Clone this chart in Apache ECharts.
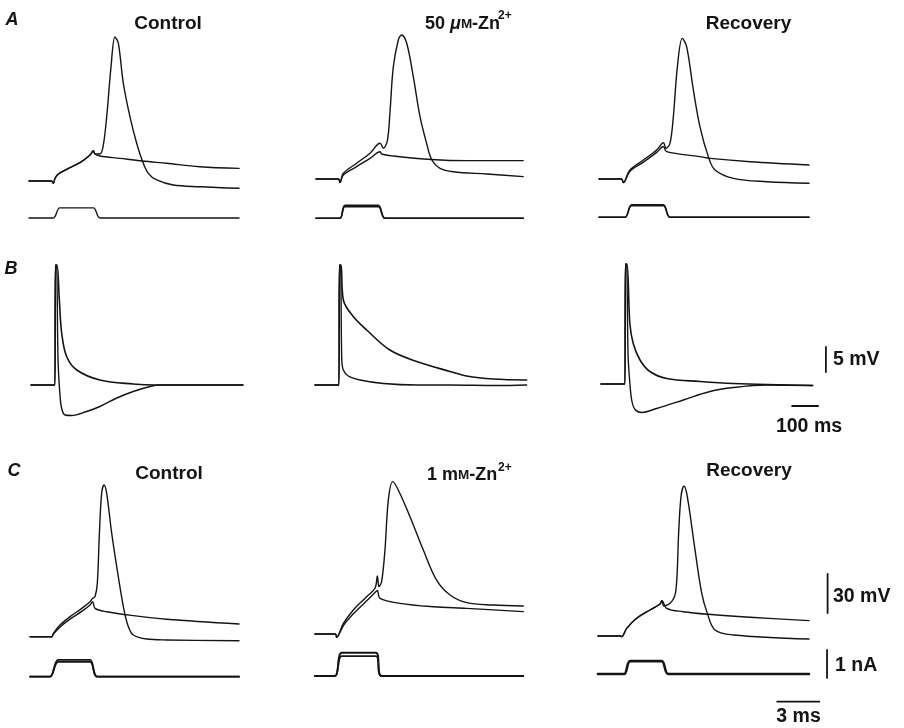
<!DOCTYPE html>
<html><head><meta charset="utf-8">
<script src="https://cdn.jsdelivr.net/npm/echarts@6.0.0/dist/echarts.min.js"></script>
<style>html,body{margin:0;padding:0;background:#fff}#c{width:904px;height:728px}</style>
</head><body><div id="c"></div><script>
// ---------- DATA (time in ms, membrane potential in mV relative to rest, current in nA) ----------
// Row A: 50 uM Zn2+
const a1Spike = [[0,0],[1.6,0],[1.74,-1.8],[1.86,2.1],[2.1,5.4],[2.69,9],[3.64,14.1],[4.36,20],[4.6,23.3],[4.71,20.8],[5.07,20.8],[5.29,26.4],[5.55,49.5],[5.86,88],[6.14,110.8],[6.38,106],[6.74,75],[7.21,49.5],[7.69,29],[8.1,15.4],[8.52,5.9],[9.12,0.8],[10.3,-3.1],[12.2,-4.4],[15,-5.6]];
const a1Sub   = [[0,0],[1.6,0],[1.74,-1.8],[1.86,2.1],[2.1,5.4],[2.69,9],[3.64,14.1],[4.36,20],[4.6,23.3],[4.71,20.8],[5.07,19.2],[6.5,17.4],[8.1,15.4],[9.83,13.6],[12.2,11],[15,9.7]];
const a1Stim  = [[0,0],[1.74,0],[2.2,0.36],[4.6,0.36],[5.07,0],[15,0]];
const a2Spike = [[0,0],[1.6,0],[1.71,-2.8],[1.95,4.4],[2.9,12.1],[3.86,19.8],[4.57,27.5],[4.81,23.6],[5.1,29.7],[5.29,52.3],[5.52,86],[5.88,106.9],[6.12,110.8],[6.48,104.4],[6.95,78.7],[7.43,47.9],[7.9,27.4],[8.26,15],[8.86,8.2],[9.8,5.6],[12.2,3.8],[14.8,1.8]];
const a2Sub   = [[0,0],[1.6,0],[1.71,-2.8],[1.95,3.1],[2.9,9.5],[3.86,15.9],[4.57,21],[4.7,19.2],[5.52,17.7],[8.26,15],[10.8,14.1],[14.8,14.1]];
const a2StimHi = [[0,0],[1.71,0],[2.07,0.46],[4.45,0.46],[4.93,0],[14.8,0]];
const a2StimLo = [[0,0],[1.71,0],[2.07,0.41],[4.45,0.41],[4.93,0],[14.8,0]];
const a3Spike = [[0,0],[1.6,0],[1.74,-2.8],[2.21,6.9],[3.17,14.6],[4.12,22.3],[4.6,27.9],[4.79,23.6],[5.07,27.4],[5.31,47.9],[5.6,86.4],[5.95,108.2],[6.26,101.8],[6.74,68.5],[7.21,40.3],[7.81,17.2],[8.29,6.9],[9.6,0.5],[12,-2.1],[15,-3.3]];
const a3Sub   = [[0,0],[1.6,0],[1.74,-2.8],[2.21,6],[3.17,13],[4.12,20.5],[4.6,25],[4.83,21],[7.21,17.2],[7.93,15.9],[10.8,13.3],[15,10.8]];
const a3StimHi = [[0,0],[1.86,0],[2.33,0.45],[4.6,0.45],[5.07,0],[15,0]];
const a3StimLo = [[0,0],[1.86,0],[2.33,0.41],[4.6,0.41],[5.07,0],[15,0]];

// Row B: after-potentials (slow time base)
const b1Up  = [[0,0],[92,0],[94,24],[100,24],[109,17],[118,10.4],[137,5.7],[176,3],[265,1],[393,0.2],[480,0],[815,0]];
const b1Low = [[0,0],[92,0],[94,24],[98,24],[104,5],[111,-1.7],[118,-4.7],[131,-6],[156,-6.1],[214,-5.3],[265,-4.3],[330,-2.6],[393,-1.3],[458,-0.3],[496,0],[815,0]];
const b2Up  = [[0,0],[92,0],[94,24],[100,24],[109,17],[147,13.7],[199,11],[288,7],[391,4.7],[519,2.7],[583,1.8],[686,1.2],[814,1]];
const b2Low = [[0,0],[92,0],[94,24],[98,24],[103,5],[109,3],[128,1.8],[173,1],[263,0.3],[391,0],[519,0],[700,-0.1],[814,0]];
const b3Up  = [[0,0],[92,0],[94,24],[100,24],[111,12.1],[124,8.1],[150,4.8],[188,2.5],[253,1.1],[381,0.5],[509,0.1],[814,-0.3]];
const b3Low = [[0,0],[92,0],[94,24],[98,24],[104,6],[109,1.5],[118,-3.2],[131,-5.1],[157,-5.7],[214,-4.9],[317,-3.2],[419,-1.5],[509,-0.7],[637,-0.2],[814,-0.3]];

// Row C: 1 mM Zn2+
const c1Spike = [[0.15,0],[1.7,0],[1.81,2.6],[2.29,9],[3,15.4],[3.84,21.8],[4.43,26.9],[4.62,29.5],[4.79,30.8],[4.95,41],[5.1,79.5],[5.26,110.3],[5.43,116.7],[5.62,110.3],[5.98,79.5],[6.45,46.2],[6.86,20.5],[7.17,7.7],[7.52,1.3],[8.48,-1.8],[9.9,-2.5],[15.07,-3.1]];
const c1Sub   = [[0.15,0],[1.7,0],[1.81,2],[2.29,7.5],[3,13.5],[3.84,19.5],[4.43,24.4],[4.62,26.9],[4.79,21.8],[5.62,19.2],[7.52,16.2],[9.9,13.4],[15.07,9.8]];
const c1StimHi = [[0.15,0],[1.57,0],[2.16,0.6],[4.43,0.6],[4.95,0],[15.07,0]];
const c1StimLo = [[0.15,0],[1.57,0],[2.16,0.53],[4.43,0.53],[4.95,0],[15.07,0]];
const c2Spike = [[0.14,0],[1.6,0],[1.69,-2.5],[2.17,8.2],[2.88,18.5],[3.83,28.7],[4.43,35.2],[4.6,44.6],[4.71,36.4],[4.9,40.2],[5.14,64.6],[5.38,103],[5.69,117.2],[6.09,110.8],[6.93,90.2],[7.88,64.6],[8.83,41.5],[9.79,30],[10.98,24.1],[12.88,22.3],[15.02,21.5]];
const c2Sub   = [[0.14,0],[1.6,0],[1.69,-2.5],[2.17,6.5],[2.88,15.5],[3.83,25.5],[4.5,32.6],[4.6,33.5],[4.79,27.4],[6.21,23.6],[8.6,21],[10.98,19.7],[15.02,17.2]];
const c2StimHi = [[0.14,0],[1.57,0],[2.05,0.83],[4.5,0.83],[4.9,0],[15.02,0]];
const c2StimLo = [[0.14,0],[1.57,0],[2.05,0.71],[4.5,0.71],[4.9,0],[15.02,0]];
const c3Spike = [[0,0],[1.6,0],[1.69,-0.5],[2.05,5.9],[2.76,13.6],[3.71,20],[4.43,24.6],[4.57,27.2],[4.71,23.1],[5.26,26.4],[5.57,35.4],[5.76,79],[5.93,107.2],[6.14,115.4],[6.38,107.2],[6.93,66.2],[7.41,32.8],[7.81,17.4],[8.36,4.6],[9.67,0.8],[15.07,-2.3]];
const c3Sub   = [[0,0],[1.6,0],[1.69,-0.5],[2.05,5.9],[2.76,13.6],[3.71,20],[4.43,24.6],[4.57,27.2],[4.9,21.3],[6.09,18.7],[7.88,16.7],[10.86,14.4],[15.07,11.8]];
const c3Stim  = [[0,0],[1.86,0],[2.29,0.46],[4.55,0.46],[5.02,0],[15.07,0]];

// Scale bars (sizes) and their labels
const scaleValues = { bVolt: 5, bTime: 100, cVolt: 30, cCurr: 1, cTime: 3 };
const scaleLabels = ['5 mV', '100 ms', '30 mV', '1 nA', '3 ms'];
// Panel titles
const colTitlesA = ['Control', 'Recovery'];
const colTitlesC = ['Control', 'Recovery'];
const znLabelA = ['50 ', 'μ', 'M', '-Zn', '2+'];
const znLabelC = ['1 m', 'M', '-Zn', '2+'];
const rowLetters = ['A', 'B', 'C'];

// ---------- LAYOUT ----------
const INK = '#141414';
const grids = [], xAxes = [], yAxes = [], series = [];
function addGrid(left, top, width, height, xmin, xmax, ymin, ymax) {
  const i = grids.length;
  grids.push({ left, top, width, height, containLabel: false });
  xAxes.push({ gridIndex: i, type: 'value', min: xmin, max: xmax, show: false });
  yAxes.push({ gridIndex: i, type: 'value', min: ymin, max: ymax, show: false });
  return i;
}
function trace(g, data, w, smooth) {
  series.push({ type: 'line', xAxisIndex: g, yAxisIndex: g, data, symbol: 'none', showSymbol: false,
    smooth: smooth === undefined ? 0.35 : smooth, clip: false, silent: true,
    lineStyle: { color: INK, width: w, join: 'round', cap: 'round' }, animation: false, z: 2 });
}
// scales: A/C voltage 1.3 px/mV, current 28 px/nA, fast time 14 px/ms; B 5 px/mV, 0.26 px/ms
const VPX = 1.3, IPX = 28, TPX = 14, BV = 5, BT = 0.26;
function vGrid(left, base) { return addGrid(left, base - 125 * VPX, 17 * TPX, 135 * VPX, 0, 17, -10, 125); }
function iGrid(left, base) { return addGrid(left, base - 1 * IPX, 17 * TPX, 2.2 * IPX, 0, 17, -1.2, 1); }
function bGrid(left, base) { return addGrid(left, base - 24 * BV, 900 * BT, 32 * BV, 0, 900, -8, 24); }

// Row A
const gA1 = vGrid(29, 181), gA2 = vGrid(316, 179), gA3 = vGrid(599, 179);
const gIA1 = iGrid(29, 218), gIA2 = iGrid(316, 218.3), gIA3 = iGrid(599, 217.3);
trace(gA1, a1Sub, 1.4); trace(gA1, a1Spike, 1.4); trace(gIA1, a1Stim, 1.4, 0.3);
trace(gA2, a2Sub, 1.4); trace(gA2, a2Spike, 1.4); trace(gIA2, a2StimHi, 1.6, 0.3); trace(gIA2, a2StimLo, 1.6, 0.3);
trace(gA3, a3Sub, 1.4); trace(gA3, a3Spike, 1.4); trace(gIA3, a3StimHi, 1.5, 0.3); trace(gIA3, a3StimLo, 1.5, 0.3);
// Row B
const gB1 = bGrid(31, 385), gB2 = bGrid(315, 385), gB3 = bGrid(601, 384);
trace(gB1, b1Up, 1.6); trace(gB1, b1Low, 1.4);
trace(gB2, b2Up, 1.6); trace(gB2, b2Low, 1.4);
trace(gB3, b3Up, 1.6); trace(gB3, b3Low, 1.4);
// Row C
const gC1 = vGrid(28, 636.7), gC2 = vGrid(313, 634), gC3 = vGrid(598, 636);
const gIC1 = iGrid(28, 676.7), gIC2 = iGrid(313, 676), gIC3 = iGrid(598, 674);
trace(gC1, c1Sub, 1.4); trace(gC1, c1Spike, 1.4); trace(gIC1, c1StimHi, 1.8, 0.3); trace(gIC1, c1StimLo, 1.8, 0.3);
trace(gC2, c2Sub, 1.4); trace(gC2, c2Spike, 1.4); trace(gIC2, c2StimHi, 1.8, 0.3); trace(gIC2, c2StimLo, 1.8, 0.3);
trace(gC3, c3Sub, 1.4); trace(gC3, c3Spike, 1.4); trace(gIC3, c3Stim, 2.6, 0.3);

// Scale bars drawn through the panels' own scales (anchor = layout, length = value)
function bar(g, x0, y0, dx, dy, w) { trace(g, [[x0, y0], [x0 + dx, y0 + dy]], w, false); }
bar(gB3, 865, 2.4, 0, scaleValues.bVolt, 1.8);
bar(gB3, 735, -4.4, scaleValues.bTime, 0, 1.8);
bar(gC3, 16.4, 17.7, 0, scaleValues.cVolt, 1.8);
bar(gIC3, 16.36, -0.14, 0, scaleValues.cCurr, 1.8);
bar(gIC3, 12.8, -0.99, scaleValues.cTime, 0, 1.8);

// ---------- TEXT ----------
const FF = '"Liberation Sans", Arial, Helvetica, sans-serif';
function txt(x, y, text, size, style) {
  return { type: 'text', x, y, silent: true,
    style: Object.assign({ text, fill: INK, fontFamily: FF, fontSize: size, fontWeight: 'bold', align: 'center', verticalAlign: 'middle' }, style || {}) };
}
function rich(x, y, text) {
  return { type: 'text', x, y, silent: true, style: {
    text, fill: INK, fontFamily: FF, fontSize: 18, fontWeight: 'bold', align: 'left', verticalAlign: 'middle',
    rich: {
      n: { fontFamily: FF, fontSize: 18, fontWeight: 'bold', fill: INK },
      mu: { fontFamily: FF, fontSize: 18, fontWeight: 'bold', fontStyle: 'italic', fill: INK },
      sc: { fontFamily: FF, fontSize: 13.5, fontWeight: 'bold', fill: INK }
    } } };
}
const graphic = [
  txt(12, 20, rowLetters[0], 18, { fontStyle: 'italic' }),
  txt(11, 269, rowLetters[1], 18, { fontStyle: 'italic' }),
  txt(14, 471, rowLetters[2], 18, { fontStyle: 'italic' }),
  txt(168, 23.5, colTitlesA[0], 19),
  txt(748.5, 23.5, colTitlesA[1], 19),
  txt(169, 473.5, colTitlesC[0], 19),
  txt(749, 471, colTitlesC[1], 19),
  rich(425, 24, '{n|' + znLabelA[0] + '}{mu|' + znLabelA[1] + '}{sc|' + znLabelA[2] + '}{n|' + znLabelA[3] + '}'),
  txt(498, 16, znLabelA[4], 12, { align: 'left' }),
  rich(427, 475, '{n|' + znLabelC[0] + '}{sc|' + znLabelC[1] + '}{n|' + znLabelC[2] + '}'),
  txt(498, 468, znLabelC[3], 12, { align: 'left' }),
  txt(833, 360, scaleLabels[0], 19.5, { align: 'left' }),
  txt(809, 427, scaleLabels[1], 19.5),
  txt(833, 597, scaleLabels[2], 19.5, { align: 'left' }),
  txt(835, 666, scaleLabels[3], 19.5, { align: 'left' }),
  txt(798.5, 717, scaleLabels[4], 19.5)
];

const chart = echarts.init(document.getElementById('c'), null, { renderer: 'canvas' });
chart.setOption({ backgroundColor: '#ffffff', animation: false, grid: grids, xAxis: xAxes, yAxis: yAxes, series, graphic });
</script></body></html>
